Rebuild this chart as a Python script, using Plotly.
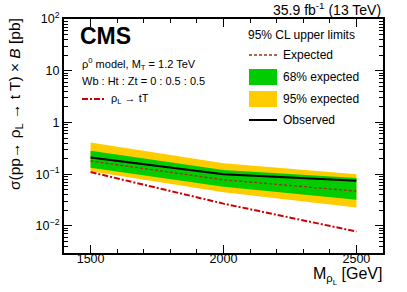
import plotly.graph_objects as go

mass = [1500, 2000, 2500]
observed = [0.21, 0.10, 0.075]
expected = [0.18, 0.078, 0.047]
exp68_lo = [0.134, 0.057, 0.032]
exp68_hi = [0.285, 0.12, 0.084]
exp95_lo = [0.114, 0.045, 0.0226]
exp95_hi = [0.41, 0.163, 0.10]
theory = [0.11, 0.027, 0.0078]

ytick_vals = [0.01, 0.1, 1, 10, 100]
ytick_text = ["10<sup>\u22122</sup>", "10<sup>\u22121</sup>", "1", "10", "10<sup>2</sup>"]
xtick_vals = [1500, 2000, 2500]

W, H = 407, 292
X0, X1, Y0, Y1 = 64, 383, 19, 253
FONT = "Liberation Sans, Arial, Helvetica, sans-serif"

def px(x):
    return (x - X0) / (X1 - X0)

def py(y):
    return (Y1 - y) / (Y1 - Y0)

ORANGE = "#FFCC00"
GREEN = "#00CC00"
EXPCOL = "#A0301A"
THCOL = "#CC0000"

fig = go.Figure()
fig.add_trace(go.Scatter(x=mass + mass[::-1], y=exp95_hi + exp95_lo[::-1], fill="toself",
                         fillcolor=ORANGE, line=dict(width=0), mode="lines", showlegend=False, hoverinfo="skip"))
fig.add_trace(go.Scatter(x=mass + mass[::-1], y=exp68_hi + exp68_lo[::-1], fill="toself",
                         fillcolor=GREEN, line=dict(width=0), mode="lines", showlegend=False, hoverinfo="skip"))
fig.add_trace(go.Scatter(x=mass, y=expected, mode="lines",
                         line=dict(color=EXPCOL, width=1.3, dash="3px,2px"), showlegend=False))
fig.add_trace(go.Scatter(x=mass, y=observed, mode="lines",
                         line=dict(color="black", width=2), showlegend=False))
fig.add_trace(go.Scatter(x=mass, y=theory, mode="lines",
                         line=dict(color=THCOL, width=2, dash="6px,2px,2px,2px"), showlegend=False))

shapes = []
ann = []

def text(x, y, s, size=11, xanchor="left", yanchor="middle", angle=0):
    ann.append(dict(x=px(x), y=py(y), xref="paper", yref="paper", text=s, showarrow=False,
                    xanchor=xanchor, yanchor=yanchor, textangle=angle, borderpad=0,
                    font=dict(family=FONT, size=size, color="black")))

LS = 12
text(247, 35, "95% CL upper limits", size=LS)
shapes.append(dict(type="line", xref="paper", yref="paper", x0=px(249), x1=px(277), y0=py(55), y1=py(55),
                   line=dict(color=EXPCOL, width=1.3, dash="3px,2px")))
text(282, 55, "Expected", size=LS)
shapes.append(dict(type="rect", xref="paper", yref="paper", x0=px(249), x1=px(277), y0=py(85), y1=py(69),
                   fillcolor=GREEN, line=dict(width=0)))
text(282, 77, "68% expected", size=LS)
shapes.append(dict(type="rect", xref="paper", yref="paper", x0=px(249), x1=px(277), y0=py(107), y1=py(91),
                   fillcolor=ORANGE, line=dict(width=0)))
text(282, 99, "95% expected", size=LS)
shapes.append(dict(type="line", xref="paper", yref="paper", x0=px(249), x1=px(277), y0=py(120), y1=py(120),
                   line=dict(color="black", width=2)))
text(282, 120, "Observed", size=LS)

text(79, 36, "<b>CMS</b>", size=23)
text(81, 64, "\u03c1<sup>0</sup> model, M<sub>T</sub> = 1.2 TeV", size=11)
text(81, 81, "Wb : Ht : Zt = 0 : 0.5 : 0.5", size=11)
shapes.append(dict(type="line", xref="paper", yref="paper", x0=px(82), x1=px(106), y0=py(99), y1=py(99),
                   line=dict(color=THCOL, width=2, dash="6px,2px,2px,2px")))
text(110, 99, "\u03c1<sub>L</sub> \u2192 tT", size=11)

text(382, 9, "35.9 fb<sup>-1</sup> (13 TeV)", size=14, xanchor="right")

text(15, 17, "\u03c3(pp\u2192 \u03c1<sub>L</sub> \u2192 t T) \u00d7 <i>B</i> [pb]", size=15.5,
     xanchor="center", yanchor="top", angle=-90)
text(383, 276, "M<sub>\u03c1<sub>L</sub></sub> [GeV]", size=16, xanchor="right")

axis_common = dict(ticks="inside", ticklen=8, tickwidth=1, tickcolor="black", mirror="ticks",
                   showline=True, linecolor="black", linewidth=2, showgrid=False, zeroline=False,
                   automargin=False, tickfont=dict(family=FONT, size=12.5, color="black"))

fig.update_layout(
    template="none",
    width=W, height=H,
    margin=dict(l=X0, r=W - X1, t=Y0, b=H - Y1, pad=0, autoexpand=False),
    plot_bgcolor="white", paper_bgcolor="white",
    font=dict(family=FONT, size=12, color="black"),
    shapes=shapes, annotations=ann, showlegend=False,
    xaxis=dict(range=[1400, 2600], tickvals=xtick_vals, ticklabelstandoff=-7,
               minor=dict(dtick=100, ticks="inside", ticklen=4, tickcolor="black", showgrid=False),
               **axis_common),
    yaxis=dict(type="log", range=[-2.523, 2], tickvals=ytick_vals, ticktext=ytick_text,
               minor=dict(dtick="D1", ticks="inside", ticklen=4, tickcolor="black", showgrid=False),
               **axis_common),
)

fig.write_html(
    "out.html",
    config={"displayModeBar": False, "staticPlot": True},
    post_script="document.body.style.margin='0';document.body.style.padding='0';"
                "document.body.style.overflow='hidden';document.documentElement.style.overflow='hidden';",
)
